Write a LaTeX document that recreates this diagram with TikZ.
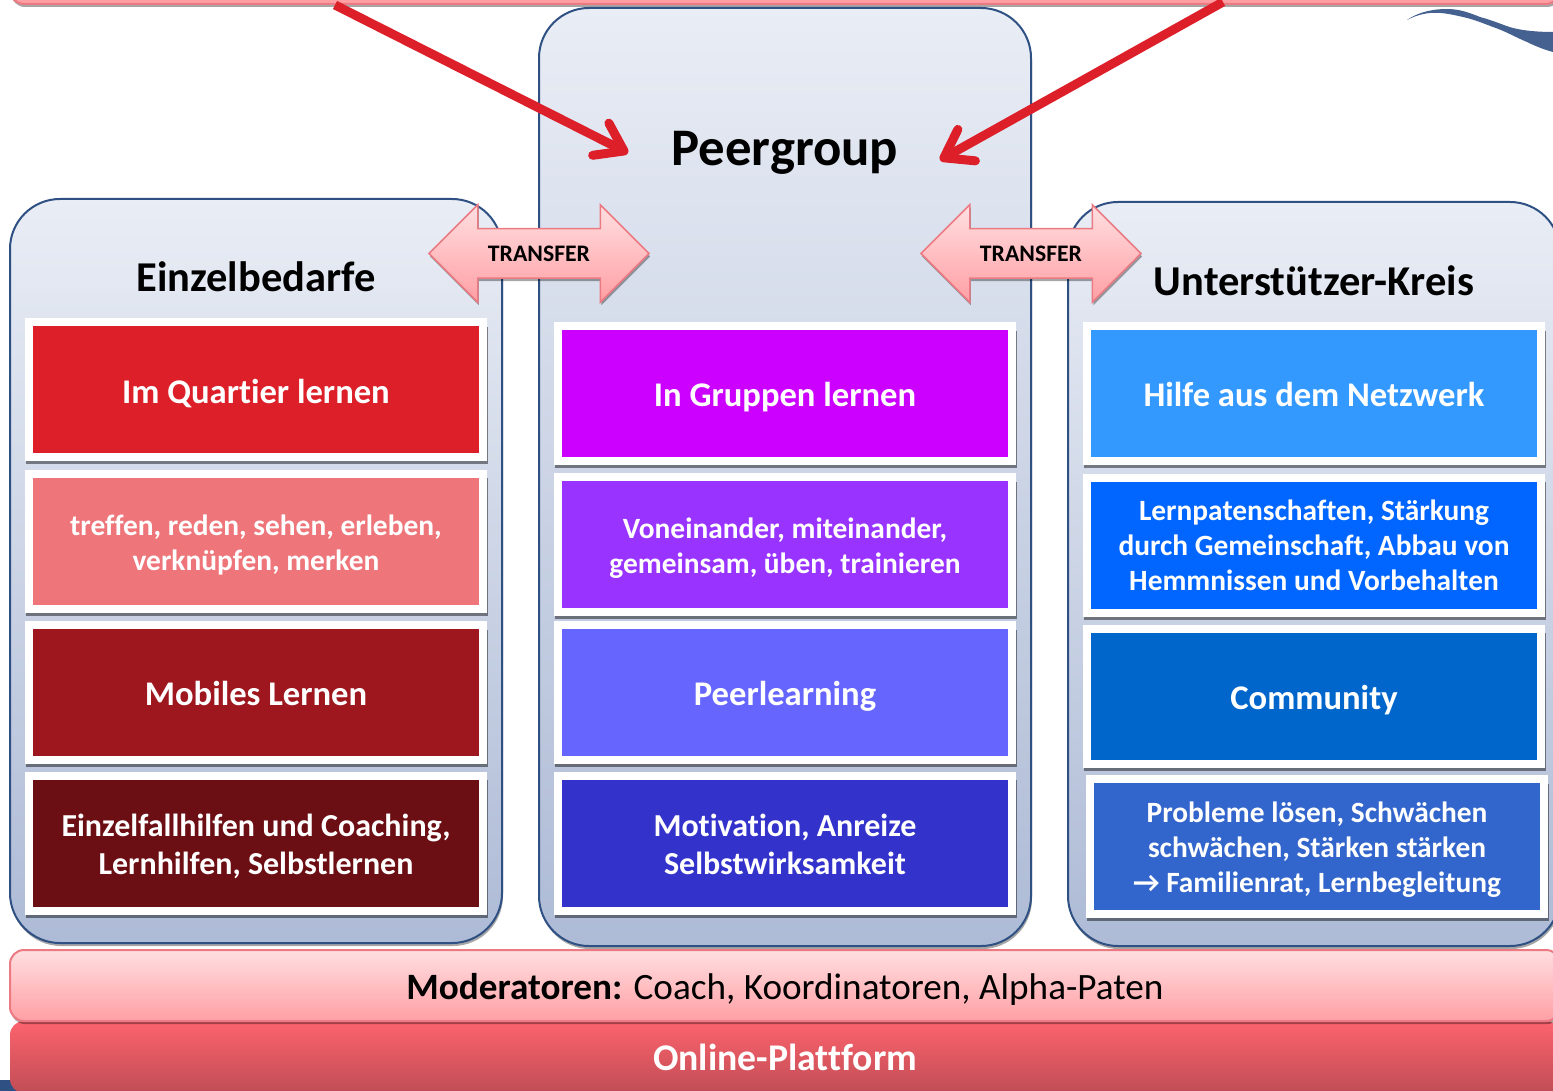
\documentclass[tikz,border=0pt]{standalone}
\usepackage{fontspec}
\setmainfont{Carlito}[Ligatures=NoCommon]
\usetikzlibrary{arrows.meta,shapes.arrows,shadows}

\definecolor{panelline}{HTML}{2F5083}
\definecolor{paneltop}{HTML}{E9EDF5}
\definecolor{panelbot}{HTML}{AEBBD6}
\definecolor{pinktop}{HTML}{FFDFE1}
\definecolor{pinkbot}{HTML}{FF9FA4}
\definecolor{pinkline}{HTML}{EC7A82}
\definecolor{redtop}{HTML}{FD636D}
\definecolor{redbot}{HTML}{C04D55}
\definecolor{arrowred}{HTML}{DC1F29}
\definecolor{eone}{HTML}{DC1F29}
\definecolor{etwo}{HTML}{EE767B}
\definecolor{ethree}{HTML}{9E171E}
\definecolor{efour}{HTML}{6C0F14}
\definecolor{pone}{HTML}{CC00FF}
\definecolor{ptwo}{HTML}{9933FF}
\definecolor{pthree}{HTML}{6666FF}
\definecolor{pfour}{HTML}{3333CC}
\definecolor{uone}{HTML}{3399FF}
\definecolor{utwo}{HTML}{0066FF}
\definecolor{uthree}{HTML}{0066CC}
\definecolor{ufour}{HTML}{3366CC}

\newcommand{\topgap}[1]{\rule{0pt}{#1pt}}

\tikzset{
  softshadow/.style={drop shadow={shadow xshift=1pt,shadow yshift=-3pt,opacity=.35,fill=black}},
  panelbox/.style={draw=panelline,line width=2pt,rounded corners=50pt,top color=paneltop,bottom color=panelbot,softshadow,minimum width=492pt},
  cardbox/.style={draw=white,line width=8pt,fill=#1,text=white,font=\bfseries\fontsize{29.4}{35}\selectfont,align=center,
    minimum width=454pt,minimum height=135pt,inner sep=0pt,
    general shadow={shadow xshift=1pt,shadow yshift=-6pt,shadow scale=1.017,opacity=.45,fill=black}},
  bigcard/.style={font=\bfseries\fontsize{34.6}{38}\selectfont},
  midcard/.style={font=\bfseries\fontsize{32}{38}\selectfont},
  headline/.style={font=\bfseries\fontsize{42.5}{50}\selectfont,text=black},
  barbox/.style={rounded corners=14pt,minimum width=1550pt,minimum height=71pt,inner sep=0pt,font=\fontsize{37.2}{44}\selectfont},
  transfer/.style={double arrow,double arrow head extend=24pt,double arrow tip angle=90,draw=pinkline,line width=1.5pt,
    top color=pinktop,bottom color=pinkbot,minimum height=220pt,minimum width=96pt,inner xsep=0pt,inner ysep=0pt,
    text height=32pt,text depth=16pt,font=\bfseries\fontsize{23.7}{28}\selectfont,softshadow},
  redarrow/.style={draw=arrowred,line width=9pt,-{Straight Barb[length=26pt,width=36pt,round]},
    preaction={draw=black,opacity=.2,transform canvas={shift={(1pt,-3pt)}}}}
}

\begin{document}
\begin{tikzpicture}[x=1pt,y=-1pt]
\useasboundingbox (0,0) rectangle (1553,1091);
\clip (0,0) rectangle (1553,1091);

\fill[panelline] (0,1080) rectangle (20,1091);
\node[fill=pinkbot,draw=pinkline,line width=2pt,minimum width=1550pt,minimum height=70pt,rounded corners=14pt,softshadow] (top) at (785,-31) {};

% logo
\fill[panelline!90!white] (1407,20) .. controls (1420,11) and (1435,9) .. (1447,9) .. controls (1460,9) and (1470,13) .. (1480,17) .. controls (1495,21) and (1505,26) .. (1513,28) .. controls (1525,31) and (1540,32) .. (1553,32) -- (1553,52) .. controls (1545,50) and (1535,46) .. (1527,42) .. controls (1515,37) and (1505,31) .. (1493,27) .. controls (1480,22) and (1472,19) .. (1463,17) .. controls (1450,14) and (1440,12) .. (1430,13) .. controls (1420,14) and (1413,17) .. (1407,20);

\node[panelbox,minimum height=744pt] (Ebox) at (256,571) {};
\node[panelbox,minimum height=938pt] (Pbox) at (785,477) {};
\node[panelbox,minimum height=744pt] (Ubox) at (1314,574) {};

\node[headline] (Etitle) at (256,277) {Einzelbedarfe};
\node[headline,font=\bfseries\fontsize{52.8}{60}\selectfont] (Ptitle) at (785,153) {Peergroup};
\node[headline] (Utitle) at (1314,281) {Unterstützer-Kreis};

\node[cardbox=eone,bigcard] (E1) at (256,389.5) {\topgap{33}Im Quartier lernen};
\node[cardbox=etwo] (E2) at (256,541) {\topgap{28}treffen, reden, sehen, erleben,\\verknüpfen, merken};
\node[cardbox=ethree,bigcard] (E3) at (256,692.5) {\topgap{27}Mobiles Lernen};
\node[cardbox=efour,midcard] (E4) at (256,843) {\topgap{30}Einzelfallhilfen und Coaching,\\Lernhilfen, Selbstlernen};

\node[cardbox=pone,bigcard] (P1) at (785,393.5) {\topgap{31}In Gruppen lernen};
\node[cardbox=ptwo] (P2) at (785,544.5) {\topgap{28}Voneinander, miteinander,\\gemeinsam, üben, trainieren};
\node[cardbox=pthree,bigcard] (P3) at (785,692.5) {\topgap{31}Peerlearning};
\node[cardbox=pfour,midcard] (P4) at (785,843) {\topgap{26}Motivation, Anreize\\Selbstwirksamkeit};

\node[cardbox=uone,bigcard] (U1) at (1314,393.5) {\topgap{27}Hilfe aus dem Netzwerk};
\node[cardbox=utwo] (U2) at (1314,545) {Lernpatenschaften, Stärkung\\durch Gemeinschaft, Abbau von\\Hemmnissen und Vorbehalten};
\node[cardbox=uthree,bigcard] (U3) at (1314,696) {\topgap{33}Community};
\node[cardbox=ufour] (U4) at (1317,846.5) {\topgap{26}Probleme lösen, Schwächen\\schwächen, Stärken stärken\\→ Familienrat, Lernbegleitung};

\node[barbox,top color=redtop,bottom color=redbot,text=white,font=\bfseries\fontsize{37.7}{44}\selectfont,minimum height=72pt] (online) at (785,1057) {Online-Plattform};
\node[barbox,draw=pinkline,line width=2pt,top color=pinktop,bottom color=pinkbot,softshadow] (moder) at (785,985.5) {\topgap{33}\textbf{Moderatoren:} Coach, Koordinatoren, Alpha-Paten};

\node[transfer] (T1) at (539,253.5) {TRANSFER};
\node[transfer] (T2) at (1031,253.5) {TRANSFER};

\coordinate (r1) at (335,5);
\coordinate (r2) at (1223,2);
\coordinate (p1) at (628,153);
\coordinate (p2) at (940,160);
\draw[redarrow] (r1)--(p1);
\draw[redarrow] (r2)--(p2);

\end{tikzpicture}
\end{document}
